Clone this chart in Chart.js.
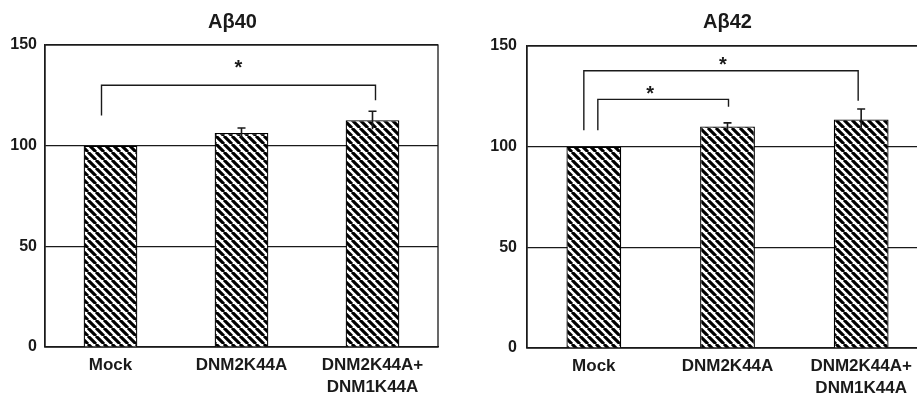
<!DOCTYPE html>
<html>
<head>
<meta charset="utf-8">
<script src="https://cdn.jsdelivr.net/npm/chart.js@4.4.1/dist/chart.umd.min.js"></script>
<style>
  html, body { margin: 0; padding: 0; background: #fff; }
  #wrap { position: relative; width: 917px; height: 394px; overflow: hidden; }
  #left { position: absolute; left: 0; top: 0; }
  #right { position: absolute; left: 460px; top: 0; }
</style>
</head>
<body>
<div id="wrap">
  <canvas id="left" width="460" height="394"></canvas>
  <canvas id="right" width="468" height="394"></canvas>
</div>
<script>
const categories = ["Mock", "DNM2K44A", ["DNM2K44A+", "DNM1K44A"]];
const yTicks = [0, 50, 100, 150];

const ab40Title = "Aβ40";
const ab40Values = [100, 106.3, 112.6];
const ab40Errors = [0, 2.5, 4.5];
// brackets: [from bar, to bar, bracket level, left leg end, right leg end, star level]
const ab40Brackets = [[0, 2, 130, 115, 122.5, 140]];

const ab42Title = "Aβ42";
const ab42Values = [100, 110, 113.5];
const ab42Errors = [0, 1.8, 5.2];
const ab42Brackets = [
  [0, 2, 137.7, 108.2, 122.8, 141.9],
  [0, 1, 123.5, 108.2, 119.8, 127.5]
];

const ink = "#1a1a1a";
const fontFamily = "'Liberation Sans', Arial, sans-serif";

function hatch() {
  const c = document.createElement("canvas");
  c.width = 8; c.height = 8;
  const g = c.getContext("2d");
  g.fillStyle = "#fff";
  g.fillRect(0, 0, 8, 8);
  g.strokeStyle = "#000";
  g.lineWidth = 3.1;
  g.beginPath();
  for (let k = -8; k <= 8; k += 8) {
    g.moveTo(k, 0);
    g.lineTo(k + 8, 8);
  }
  g.stroke();
  return g.createPattern(c, "repeat");
}

// title, frame, error bars and significance brackets
const extras = {
  id: "extras",
  beforeDatasetsDraw(chart, args, o) {
    const a = chart.chartArea, ctx = chart.ctx;
    ctx.save();
    ctx.strokeStyle = ink;
    ctx.lineWidth = 1.3;
    ctx.strokeRect(a.left, a.top, a.right - a.left, a.bottom - a.top);
    ctx.restore();
  },
  afterDatasetsDraw(chart, args, o) {
    const ctx = chart.ctx, y = chart.scales.y, a = chart.chartArea;
    const meta = chart.getDatasetMeta(0);
    ctx.save();
    ctx.fillStyle = ink;
    ctx.strokeStyle = ink;

    ctx.font = "bold 20px " + fontFamily;
    ctx.textAlign = "center";
    ctx.textBaseline = "middle";
    ctx.fillText(o.title, (a.left + a.right) / 2 + o.titleDx, 22);

    ctx.lineWidth = 1.6;
    o.values.forEach((v, i) => {
      const e = o.errors[i];
      if (!e) return;
      const x = meta.data[i].x;
      const yTop = y.getPixelForValue(v + e);
      ctx.beginPath();
      ctx.moveTo(x, y.getPixelForValue(v - e));
      ctx.lineTo(x, yTop);
      ctx.moveTo(x - 4, yTop);
      ctx.lineTo(x + 4, yTop);
      ctx.stroke();
    });

    ctx.lineWidth = 1.4;
    ctx.font = "bold 20px " + fontFamily;
    o.brackets.forEach((b, k) => {
      const off = o.offsets[k];
      const xl = meta.data[b[0]].x + off[0];
      const xr = meta.data[b[1]].x + off[1];
      const yb = y.getPixelForValue(b[2]);
      ctx.beginPath();
      ctx.moveTo(xl, y.getPixelForValue(b[3]));
      ctx.lineTo(xl, yb);
      ctx.lineTo(xr, yb);
      ctx.lineTo(xr, y.getPixelForValue(b[4]));
      ctx.stroke();
      ctx.fillText("*", (xl + xr) / 2 + off[2], y.getPixelForValue(b[5]) + 3);
    });
    ctx.restore();
  }
};

function makeChart(id, title, values, errors, brackets, geo) {
  return new Chart(document.getElementById(id), {
    type: "bar",
    data: {
      labels: categories,
      datasets: [{
        data: values,
        backgroundColor: hatch(),
        borderColor: "#000",
        borderWidth: 1.3,
        barPercentage: 0.41,
        categoryPercentage: 1
      }]
    },
    plugins: [extras],
    options: {
      responsive: false,
      animation: false,
      layout: { padding: { top: geo.top, right: geo.right, left: 0, bottom: 0 } },
      plugins: {
        legend: { display: false },
        tooltip: { enabled: false },
        extras: {
          title: title, titleDx: geo.titleDx,
          values: values, errors: errors,
          brackets: brackets, offsets: geo.offsets
        }
      },
      scales: {
        x: {
          grid: { display: false, drawTicks: false },
          border: { display: true, color: ink, width: 1.3 },
          ticks: {
            color: ink, padding: 7, maxRotation: 0, autoSkip: false,
            font: { family: fontFamily, size: 17, weight: "bold", lineHeight: 1.3 }
          },
          afterFit: s => { s.height = geo.xHeight; }
        },
        y: {
          min: 0, max: 150,
          afterBuildTicks: s => { s.ticks = yTicks.map(v => ({ value: v })); },
          grid: { color: ink, lineWidth: 1.2, drawTicks: false },
          border: { display: true, color: ink, width: 1.3 },
          ticks: {
            color: ink, padding: geo.tickPad,
            font: { family: fontFamily, size: 16, weight: "bold" }
          },
          afterFit: s => { s.width = geo.yWidth; }
        }
      }
    }
  });
}

makeChart("left", ab40Title, ab40Values, ab40Errors, ab40Brackets, {
  top: 45, right: 22, xHeight: 47, yWidth: 45, tickPad: 8, titleDx: -9,
  offsets: [[-9, 3, 0]]
});
makeChart("right", ab42Title, ab42Values, ab42Errors, ab42Brackets, {
  top: 46, right: 0, xHeight: 46, yWidth: 67, tickPad: 10, titleDx: 0,
  offsets: [[-10, -3, 2], [4, 1, -13]]
});
</script>
</body>
</html>
